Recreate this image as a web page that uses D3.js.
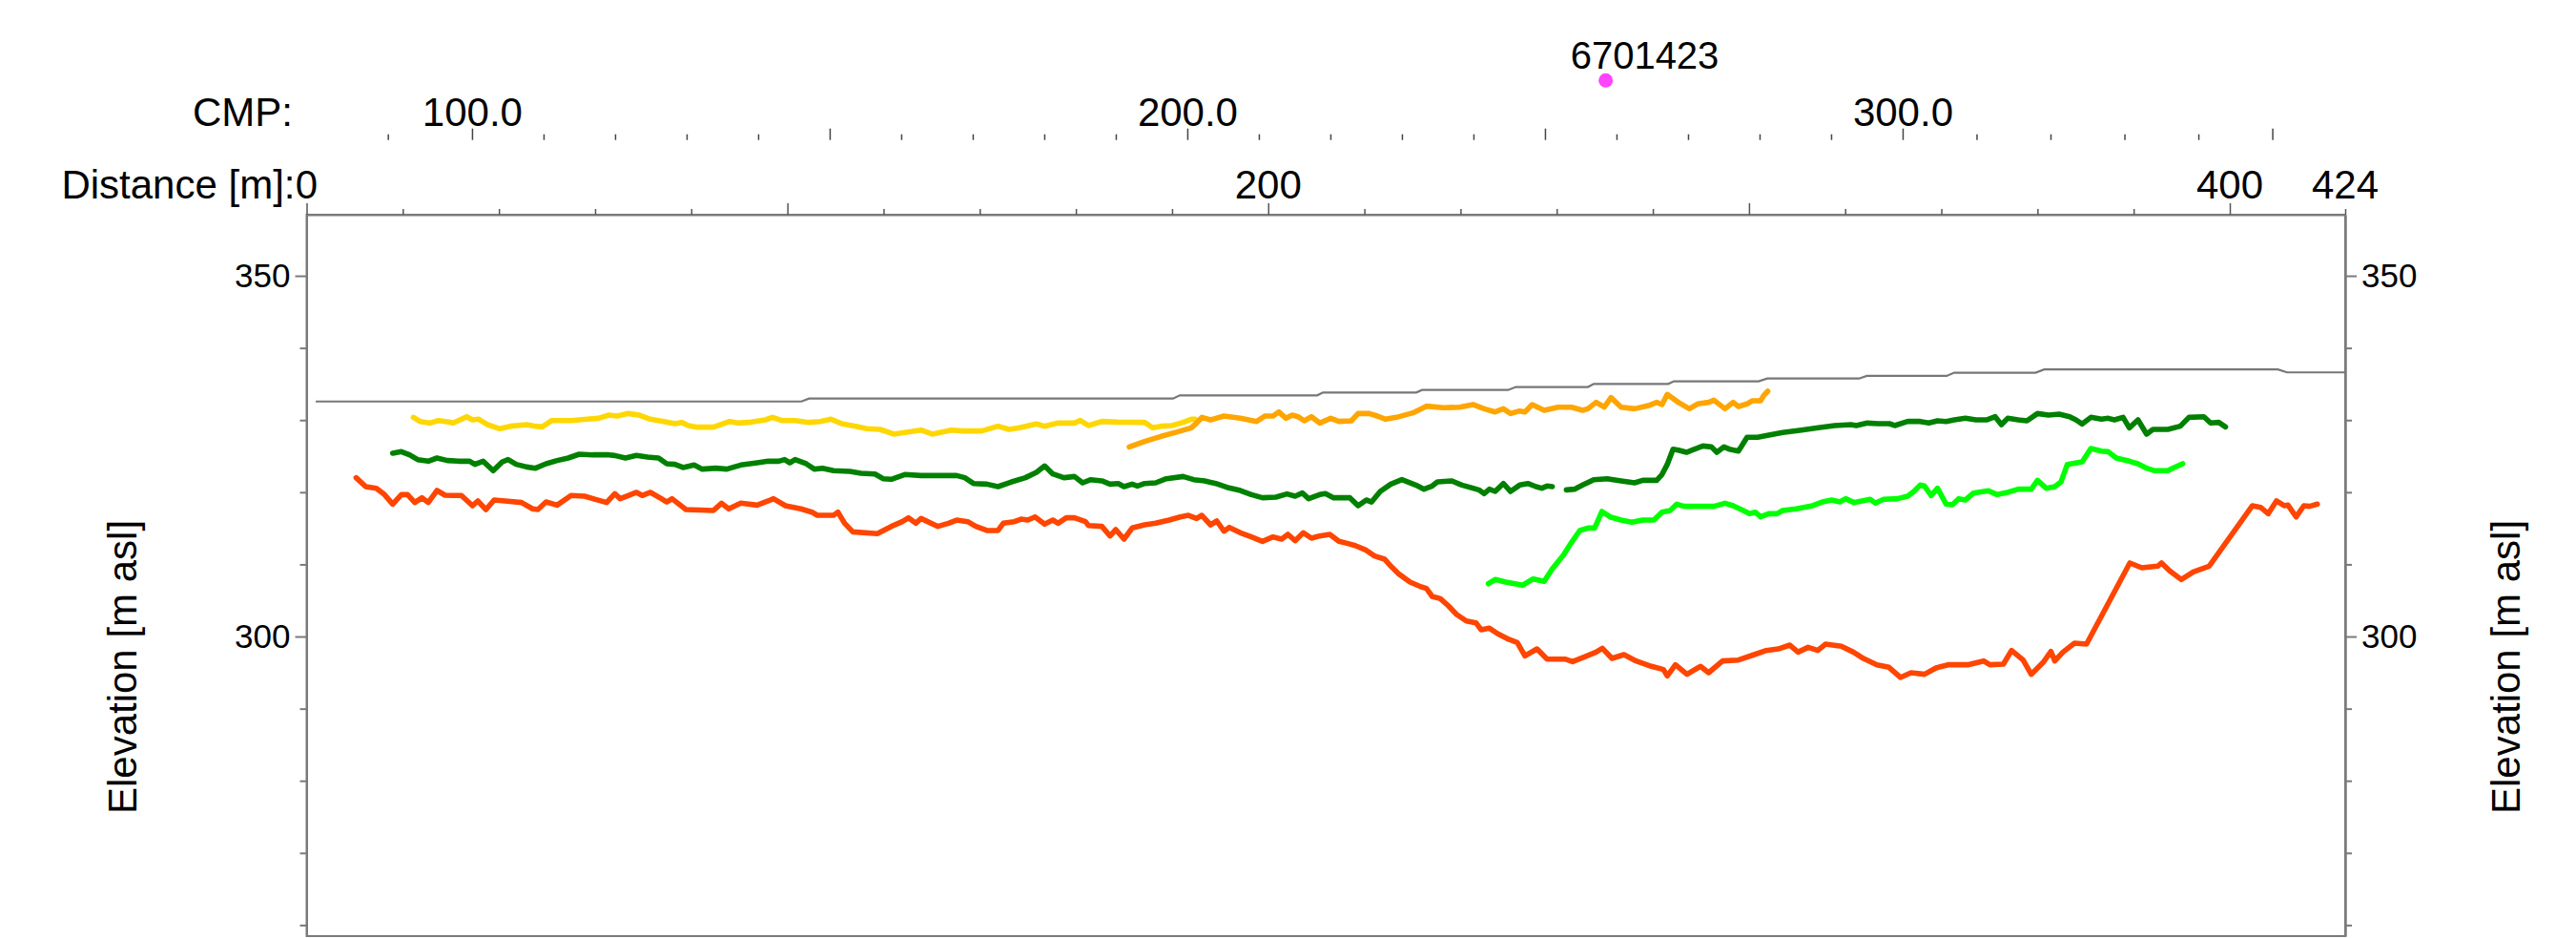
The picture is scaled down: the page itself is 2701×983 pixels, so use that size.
<!DOCTYPE html>
<html><head><meta charset="utf-8">
<script src="https://cdn.jsdelivr.net/npm/d3@7"></script>
<style>
html,body{margin:0;padding:0;background:#fff;}
svg{display:block;}
text{font-family:"Liberation Sans",Arial,sans-serif;fill:#000;}
</style></head>
<body>
<svg id="chart" width="2701" height="983"></svg>
<script>
// ---------------- data ----------------
const distanceMajorTicks = [0, 100, 200, 300, 400];
const distanceMinorTicks = [20, 40, 60, 80, 120, 140, 160, 180, 220, 240, 260, 280, 320, 340, 360, 380, 424];
const distanceLabels = [0, 200, 400, 424];

const cmpKnots = [90, 100, 300, 350];          // CMP numbers
const cmpKnotDistance = [17.0, 34.5, 332.05, 408.94]; // their distance along profile [m]
const cmpMajorTicks = [100, 150, 200, 250, 300, 350];
const cmpMinorTicks = [90, 110, 120, 130, 140, 160, 170, 180, 190, 210, 220, 230, 240, 260, 270, 280, 290, 310, 320, 330, 340];
const cmpLabels = [100, 200, 300];

const elevMajorTicks = [300, 350];
const elevMinorTicks = [260, 270, 280, 290, 310, 320, 330, 340];

const wellName = "6701423";
const wellDistance = 270.2;

const surface = [[1.9,332.58],[102.9,332.58],[104.5,332.98],[180.2,332.98],[181.6,333.43],[210.2,333.43],[211.4,333.83],[230.8,333.83],[232.0,334.17],[249.9,334.17],[251.5,334.59],[266.5,334.59],[267.7,335.02],[283.2,335.02],[284.4,335.38],[302.0,335.38],[303.8,335.76],[322.9,335.76],[324.5,336.12],[341.1,336.12],[342.7,336.57],[359.6,336.57],[361.4,337.02],[410.0,337.02],[411.9,336.61],[424,336.61]];

const yellow = [[22.2,330.38],[23.6,329.81],[25.6,329.59],[27.4,329.94],[29.3,329.77],[30.5,329.59],[32.2,330.12],[33.3,330.47],[34.5,330.03],[35.8,330.12],[37.6,329.37],[40.2,328.80],[42.4,329.15],[45.8,329.37],[47.6,329.15],[49.0,329.06],[51.0,329.94],[55.0,329.94],[58.4,330.12],[60.7,330.25],[62.9,330.69],[64.6,330.56],[66.9,330.91],[69.2,330.69],[71.5,330.12],[74.3,329.81],[76.6,329.50],[78.0,329.68],[79.4,329.24],[81.2,329.02],[84.6,329.02],[88.0,329.81],[89.7,329.59],[92.5,329.72],[95.4,330.03],[96.9,330.38],[98.8,329.94],[101.6,329.94],[104.5,329.68],[106.8,329.81],[109.1,330.12],[111.3,329.50],[114.2,329.15],[116.5,328.80],[119.3,328.71],[122.1,328.05],[124.4,328.27],[127.8,328.62],[130.1,328.05],[134.1,328.62],[136.4,328.49],[140.4,328.49],[143.8,329.15],[146.1,328.71],[148.3,328.93],[151.8,329.46],[153.5,329.15],[156.3,329.59],[159.7,329.59],[160.9,329.94],[162.6,329.24],[165.4,329.81],[168.8,329.72],[174.3,329.68],[176.0,328.93],[177.7,329.15],[180.0,329.24],[182.3,329.68],[184.0,330.12],[184.8,330.12]];

const orange = [[171.1,326.28],[174.3,327.03],[177.7,327.74],[181.1,328.36],[184.0,328.93],[185.1,329.59],[186.2,330.38],[188.0,330.03],[190.8,330.56],[194.2,330.25],[197.6,329.81],[199.3,330.56],[201.0,330.56],[202.2,331.13],[203.7,330.25],[205.0,330.69],[206.2,330.47],[207.5,329.90],[209.0,330.47],[210.7,329.59],[213.0,330.25],[214.7,329.81],[217.3,329.90],[218.7,330.91],[221.0,330.91],[222.7,330.56],[224.4,330.12],[226.7,330.38],[230.1,331.00],[232.9,331.93],[236.4,331.71],[239.8,331.79],[242.6,332.15],[244.9,331.57],[247.2,331.13],[248.9,331.57],[250.4,330.91],[252.3,331.27],[253.4,331.13],[254.9,332.15],[257.4,331.35],[260.3,331.79],[263.1,331.79],[265.4,331.35],[266.5,331.57],[268.2,332.46],[269.9,331.79],[271.3,333.12],[273.4,331.79],[276.2,331.57],[279.1,332.01],[280.8,332.46],[281.9,332.15],[283.0,333.56],[285.3,332.46],[287.6,331.57],[289.3,332.24],[291.6,332.46],[292.7,332.76],[295.0,331.57],[296.7,332.46],[297.8,331.88],[299.6,332.24],[300.7,332.68],[302.4,332.68],[303.0,333.34],[303.9,334.00]];

const darkGreen = [[17.9,325.40],[19.7,325.62],[21.4,325.18],[23.1,324.52],[25.3,324.30],[27.1,324.74],[29.3,324.39],[31.6,324.30],[33.9,324.30],[35.0,323.86],[36.7,324.30],[38.8,322.98],[40.7,324.21],[41.9,324.52],[43.6,323.86],[45.8,323.50],[47.6,323.33],[49.8,323.95],[52.1,324.39],[54.4,324.74],[56.7,325.27],[59.5,325.18],[62.9,325.18],[64.1,325.09],[66.3,324.74],[68.6,325.09],[70.9,324.87],[73.2,324.74],[74.9,323.95],[76.6,323.86],[78.3,323.42],[80.6,323.77],[82.3,323.20],[85.1,323.33],[87.4,323.20],[90.3,323.77],[93.7,324.08],[96.0,324.30],[98.2,324.30],[99.4,324.52],[100.5,324.08],[101.6,324.52],[103.9,323.95],[105.6,323.20],[107.3,323.33],[109.6,322.98],[113.0,322.89],[115.3,322.62],[118.2,322.53],[119.9,321.87],[121.6,321.79],[124.4,322.45],[127.8,322.31],[131.3,322.31],[135.2,322.31],[136.9,322.01],[138.7,321.21],[141.5,321.12],[143.8,320.77],[146.6,321.43],[149.5,322.01],[151.8,322.76],[153.5,323.64],[155.2,322.53],[157.5,322.01],[159.7,322.18],[161.4,321.30],[163.1,321.74],[165.4,321.57],[167.1,321.12],[168.8,321.21],[170.0,320.77],[171.7,321.12],[172.8,320.86],[174.3,321.21],[176.6,321.30],[178.8,321.87],[182.3,322.18],[184.5,321.74],[186.8,321.57],[189.1,321.21],[191.4,320.68],[194.2,320.24],[196.5,319.67],[198.8,319.23],[201.6,319.32],[203.9,319.76],[205.6,319.45],[207.1,319.89],[208.4,319.10],[210.7,319.67],[211.9,319.80],[213.6,319.23],[217.0,319.23],[218.7,318.13],[220.4,318.92],[221.5,318.65],[223.3,320.11],[225.5,321.12],[227.8,321.74],[230.7,320.99],[232.4,320.42],[234.1,320.86],[235.2,321.43],[238.1,321.57],[240.3,320.99],[243.8,320.33],[244.9,319.80],[246.0,320.42],[247.2,320.11],[248.9,321.21],[250.4,320.11],[252.3,320.99],[254.0,321.21],[255.7,320.77],[256.9,320.55],[258.0,320.86],[259.1,320.77],[260.5,null],[262.0,320.33],[263.7,320.42],[265.4,320.99],[267.7,321.74],[270.5,321.87],[273.4,321.57],[276.2,321.30],[277.9,321.65],[280.8,321.65],[281.9,322.45],[283.0,323.86],[284.2,325.97],[285.3,325.84],[287.0,325.53],[288.2,325.84],[290.4,326.41],[292.2,326.28],[293.3,325.53],[294.8,326.28],[295.9,325.97],[297.8,325.71],[299.6,327.61],[301.8,327.61],[304.1,327.91],[307.0,328.27],[310.9,328.62],[314.4,328.93],[317.8,329.24],[321.2,329.37],[322.3,329.24],[324.6,329.59],[326.9,329.50],[329.2,329.50],[330.3,329.24],[333.0,329.81],[335.6,329.81],[337.4,329.59],[339.2,329.90],[341.0,329.81],[342.7,330.03],[345.0,330.25],[347.2,330.03],[349.4,330.03],[351.2,330.47],[352.5,329.37],[353.8,330.25],[356.0,330.03],[357.8,329.90],[360.0,330.91],[362.3,330.69],[364.5,330.82],[366.7,330.47],[368.0,330.03],[369.3,329.46],[371.1,330.38],[373.3,330.12],[374.7,330.25],[376.0,330.03],[377.8,330.38],[379.1,328.93],[380.9,330.03],[382.7,328.05],[384.0,328.71],[387.1,328.71],[389.7,329.15],[391.5,330.38],[394.6,330.47],[396.0,329.59],[397.7,329.68],[399.1,329.06]];

const lightGreen = [[245.8,307.32],[247.2,307.90],[249.4,307.54],[252.9,307.10],[255.1,307.98],[257.4,307.63],[259.1,309.40],[261.4,311.29],[263.1,313.06],[264.8,314.69],[266.5,315.04],[267.9,315.04],[269.4,317.33],[271.1,316.58],[273.4,316.14],[275.6,315.83],[277.9,316.14],[280.2,316.14],[281.9,317.24],[283.6,317.46],[285.0,318.35],[286.5,318.04],[289.3,318.04],[292.7,318.04],[295.0,318.48],[296.7,318.13],[298.4,317.60],[300.1,317.02],[301.3,317.24],[302.4,316.58],[304.1,317.02],[305.8,317.02],[307.0,317.46],[309.8,317.69],[313.2,318.13],[315.5,318.70],[317.2,318.92],[318.9,318.65],[320.1,319.10],[321.8,318.57],[323.5,318.79],[325.2,319.01],[326.3,318.48],[328.0,319.01],[330.9,319.10],[333.0,319.45],[334.3,320.11],[335.6,320.99],[336.5,320.86],[337.9,319.54],[339.2,320.55],[341.0,318.35],[342.3,318.26],[343.6,319.10],[345.0,318.92],[346.7,319.89],[349.8,320.20],[351.6,319.67],[353.8,319.98],[356.0,320.42],[358.7,320.42],[360.0,321.65],[361.8,320.55],[363.6,320.77],[364.9,321.43],[366.2,323.86],[369.3,324.21],[371.1,326.06],[373.3,325.71],[374.7,325.62],[376.4,324.74],[379.1,324.30],[380.9,323.95],[382.7,323.33],[384.4,322.98],[387.1,322.98],[388.4,323.42],[390.2,323.95]];

const red = [[10.3,322.01],[12.3,320.77],[14.5,320.55],[16.2,319.67],[17.9,318.35],[19.7,319.67],[21.0,319.67],[22.5,318.57],[24.0,319.23],[25.3,318.57],[27.1,320.24],[28.8,319.58],[30.5,319.54],[32.2,319.54],[34.5,318.13],[35.6,318.79],[37.3,317.60],[39.0,318.92],[41.3,318.79],[44.7,318.57],[47.0,317.69],[48.1,317.60],[49.8,318.65],[52.1,318.21],[55.0,319.54],[57.8,319.45],[60.1,319.01],[62.4,318.57],[64.1,319.80],[65.2,319.10],[66.9,319.54],[68.6,319.98],[69.8,319.54],[71.5,319.98],[73.8,319.10],[74.9,318.65],[76.0,319.10],[78.9,317.60],[84.6,317.46],[86.3,318.48],[87.8,317.69],[90.3,318.48],[93.7,318.21],[96.0,318.79],[97.1,319.10],[99.6,318.13],[102.8,317.69],[105.1,317.24],[106.2,316.80],[109.6,316.80],[110.5,317.24],[111.9,315.70],[113.6,314.51],[118.7,314.25],[121.6,315.26],[123.9,315.92],[125.2,316.45],[126.7,315.70],[127.8,316.36],[131.3,315.26],[133.5,315.70],[135.2,316.14],[137.5,315.92],[139.2,315.26],[141.5,314.69],[143.8,314.69],[144.9,315.70],[147.2,315.92],[148.6,316.27],[150.0,316.14],[151.5,316.58],[153.5,315.57],[155.2,316.14],[156.3,315.70],[158.0,316.45],[159.7,316.45],[162.0,315.92],[162.6,315.39],[165.4,315.26],[167.1,313.94],[168.3,314.82],[170.0,313.50],[171.7,315.04],[174.3,315.48],[176.6,315.70],[179.4,316.14],[181.7,316.58],[183.4,316.80],[185.1,316.36],[186.2,316.80],[188.0,315.48],[189.3,316.01],[190.8,314.60],[191.9,315.13],[194.2,314.38],[196.5,313.80],[198.8,313.19],[201.0,313.80],[202.8,313.50],[204.1,314.16],[205.6,313.28],[207.3,314.38],[209.0,313.63],[210.7,313.94],[212.8,314.16],[214.7,313.19],[216.4,312.92],[218.1,312.61],[220.4,311.95],[222.1,311.16],[224.2,310.72],[225.5,309.75],[227.2,308.65],[229.5,307.54],[231.8,306.88],[232.9,306.66],[234.1,305.56],[235.8,305.25],[237.5,304.24],[239.2,303.05],[241.2,302.16],[243.2,301.90],[244.3,300.93],[246.0,301.15],[247.7,300.40],[250.0,299.61],[251.8,299.17],[253.4,297.31],[255.9,298.28],[258.0,296.87],[261.7,296.87],[263.3,296.52],[265.8,297.18],[268.2,297.84],[269.5,298.37],[271.5,296.96],[274.0,297.49],[276.5,296.61],[279.7,295.86],[282.2,295.42],[283.0,294.54],[284.7,296.08],[287.1,294.76],[289.9,295.86],[291.6,294.98],[294.5,296.61],[297.8,296.74],[301.1,297.49],[303.6,298.06],[306.1,298.28],[308.5,298.81],[310.2,297.84],[312.3,298.50],[314.3,298.06],[315.9,298.94],[319.2,298.64],[321.7,297.84],[323.8,296.96],[326.6,296.08],[329.1,295.73],[331.5,294.32],[333.7,294.98],[336.5,294.76],[338.9,295.64],[341.4,296.08],[345.5,296.08],[348.8,296.61],[350.1,296.08],[352.9,296.17],[354.6,298.06],[357.0,296.74],[358.7,294.76],[361.2,296.43],[362.8,297.93],[363.6,296.61],[365.3,297.84],[367.7,299.08],[370.2,298.94],[379.2,310.19],[381.7,309.53],[385.0,309.75],[385.8,310.19],[387.5,309.09],[389.9,307.90],[392.4,308.96],[395.7,309.75],[404.7,318.13],[406.4,317.91],[408.0,317.02],[409.7,318.79],[411.3,318.13],[412.1,318.21],[413.8,316.58],[415.4,318.13],[416.6,318.04],[418.2,318.35]];

const seriesList = [
  {name:"yellow", values:yellow, color:"#ffd700"},
  {name:"orange", values:orange, color:"#ffa500"},
  {name:"darkGreen", values:darkGreen, color:"#008000"},
  {name:"lightGreen", values:lightGreen, color:"#00ff00"},
  {name:"red", values:red, color:"#ff4500"}
];

// ---------------- layout ----------------
const svg = d3.select("#chart");
const plot = {left:321.5, right:2459, top:225, bottom:981};
const axisGray = "#7a7a7a";

const x = d3.scaleLinear().domain([0, 424]).range([plot.left, plot.right]);
const y = d3.scaleLinear().domain([258.47, 358.47]).range([plot.bottom, plot.top]);
const cmpToDist = d3.scaleLinear().domain(cmpKnots).range(cmpKnotDistance);
const xc = c => x(cmpToDist(c));

// frame
svg.append("rect").attr("x", plot.left).attr("y", plot.top)
  .attr("width", plot.right - plot.left).attr("height", plot.bottom - plot.top)
  .attr("fill", "none").attr("stroke", axisGray).attr("stroke-width", 2);

// ---- distance axis (top) ----
function styleAxis(g, col, w){
  g.selectAll("path.domain").attr("stroke", col).attr("stroke-width", w);
  g.selectAll(".tick line").attr("stroke", col).attr("stroke-width", w);
  g.selectAll(".tick text").remove();
}
const gDistMinor = svg.append("g").attr("transform", `translate(0,${plot.top})`)
  .call(d3.axisTop(x).tickValues(distanceMinorTicks).tickSize(6).tickSizeOuter(0).tickFormat(""));
styleAxis(gDistMinor, "#555", 1.5);
gDistMinor.select("path.domain").attr("stroke", axisGray).attr("stroke-width", 2);
const gDistMajor = svg.append("g").attr("transform", `translate(0,${plot.top})`)
  .call(d3.axisTop(x).tickValues(distanceMajorTicks).tickSize(12).tickSizeOuter(0).tickFormat(""));
styleAxis(gDistMajor, "#555", 1.5);
gDistMajor.select("path.domain").remove();

svg.append("g").selectAll("text").data(distanceLabels).join("text")
  .attr("x", d => x(d)).attr("y", 208).attr("text-anchor", "middle")
  .attr("font-size", 42).text(d => d);
svg.append("text").attr("x", x(0) - 12).attr("y", 208).attr("text-anchor", "end")
  .attr("font-size", 42).text("Distance [m]:");

// ---- CMP axis ----
const cmpBase = 146.7;
svg.append("g").selectAll("line").data(cmpMinorTicks).join("line")
  .attr("x1", d => xc(d)).attr("x2", d => xc(d))
  .attr("y1", cmpBase).attr("y2", cmpBase - 6)
  .attr("stroke", "#444").attr("stroke-width", 1.5);
svg.append("g").selectAll("line").data(cmpMajorTicks).join("line")
  .attr("x1", d => xc(d)).attr("x2", d => xc(d))
  .attr("y1", cmpBase).attr("y2", cmpBase - 12)
  .attr("stroke", "#444").attr("stroke-width", 1.5);
svg.append("g").selectAll("text").data(cmpLabels).join("text")
  .attr("x", d => xc(d)).attr("y", 131.5).attr("text-anchor", "middle")
  .attr("font-size", 42).text(d => d.toFixed(1));
svg.append("text").attr("x", 307).attr("y", 131.5).attr("text-anchor", "end")
  .attr("font-size", 42).text("CMP:");

// ---- well marker ----
svg.append("circle").attr("cx", x(wellDistance)).attr("cy", 84.3).attr("r", 7.5).attr("fill", "#ff44ff");
svg.append("text").attr("x", x(wellDistance) - 37).attr("y", 71.5).attr("text-anchor", "start")
  .attr("font-size", 40).text(wellName);

// ---- elevation axes ----
function elevAxis(axisFn, xpos){
  const gMin = svg.append("g").attr("transform", `translate(${xpos},0)`)
    .call(axisFn(y).tickValues(elevMinorTicks).tickSize(7).tickSizeOuter(0).tickFormat(""));
  styleAxis(gMin, axisGray, 2);
  const gMaj = svg.append("g").attr("transform", `translate(${xpos},0)`)
    .call(axisFn(y).tickValues(elevMajorTicks).tickSize(12).tickSizeOuter(0).tickPadding(5).tickFormat(d3.format("d")));
  gMaj.selectAll("path.domain").attr("stroke", axisGray).attr("stroke-width", 2);
  gMaj.selectAll(".tick line").attr("stroke", axisGray).attr("stroke-width", 2);
  gMaj.selectAll(".tick text").attr("font-size", 35)
    .attr("font-family", '"Liberation Sans",Arial,sans-serif').attr("fill", "#000");
}
elevAxis(d3.axisLeft, plot.left);
elevAxis(d3.axisRight, plot.right);

const midY = 699;
svg.append("text").attr("transform", `translate(143,${midY}) rotate(-90)`)
  .attr("text-anchor", "middle").attr("font-size", 42).text("Elevation [m asl]");
svg.append("text").attr("transform", `translate(2642,${midY}) rotate(-90)`)
  .attr("text-anchor", "middle").attr("font-size", 42).text("Elevation [m asl]");

// ---- surface ----
const line = d3.line().defined(d => d[1] !== null).x(d => x(d[0])).y(d => y(d[1]));
svg.append("path").datum(surface).attr("d", line)
  .attr("fill", "none").attr("stroke", "#777").attr("stroke-width", 2.2);

// ---- interpreted horizons ----
svg.append("g").selectAll("path").data(seriesList).join("path")
  .attr("d", s => line(s.values))
  .attr("fill", "none").attr("stroke", s => s.color)
  .attr("stroke-width", 5.6).attr("stroke-linejoin", "round").attr("stroke-linecap", "round");
</script>
</body></html>
